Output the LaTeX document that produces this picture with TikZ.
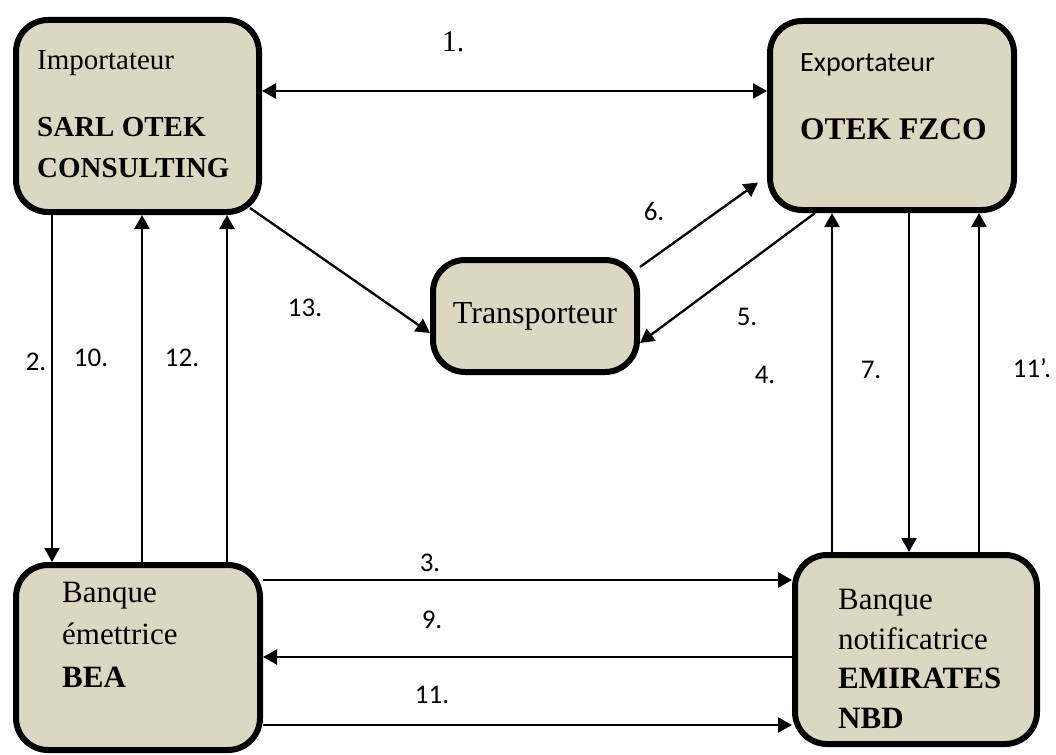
\documentclass[tikz,border=0pt]{standalone}
\usepackage{fontspec}
\setmainfont{Liberation Serif}
\newfontfamily\calfont{Carlito}
\usetikzlibrary{arrows.meta}
\definecolor{boxfill}{RGB}{219,215,193}

\begin{document}
\begin{tikzpicture}[x=1pt,y=-1pt,
    box/.style={draw,line width=6pt,fill=boxfill,rounded corners=32pt,inner sep=0pt},
    txt/.style={anchor=base west,align=left,inner sep=0pt},
    arr/.style={line width=2.3pt,>={Triangle[length=14pt,width=15pt]},->},
    num/.style={font=\calfont\fontsize{27}{30}\selectfont,inner sep=0pt}]
  \useasboundingbox (0,0) rectangle (1056,754);
  % boxes
  \node[box,minimum width=243pt,minimum height=192pt] (imp) at (137.5,116) {};
  \node[box,minimum width=244pt,minimum height=189pt] (exp) at (892,115.5) {};
  \node[box,minimum width=204pt,minimum height=112pt,
    font=\fontsize{32}{38}\selectfont] (tra) at (535,316) {Transporteur};
  \node[box,minimum width=244pt,minimum height=185pt] (bea) at (138,657.5) {};
  \node[box,minimum width=242pt,minimum height=189pt] (nbd) at (916,649.5) {};
  % box texts (placed at the baseline of their last line)
  \node[txt,font=\fontsize{29}{40}\selectfont] (imptxt) at (37,177)
    {Importateur\\[27pt]\textbf{SARL OTEK}\\\textbf{CONSULTING}};
  \node[txt,font=\fontsize{31.5}{38}\selectfont] (exptxt) at (800,140)
    {{\calfont\fontsize{28}{34}\selectfont Exportateur}\\[30pt]\textbf{OTEK FZCO}};
  \node[txt,font=\fontsize{31}{42.5}\selectfont] (beatxt) at (62,687)
    {Banque\\émettrice\\\textbf{BEA}};
  \node[txt,font=\fontsize{31}{39.5}\selectfont] (nbdtxt) at (838,728)
    {Banque\\notificatrice\\\textbf{EMIRATES}\\\textbf{NBD}};
  % connectors
  \draw[arr,<->] (imp.east |- 0,91) -- (exp.west |- 0,91);
  \draw[arr] (imp.south -| 52,0) -- (bea.north -| 52,0);
  \draw[arr] (bea.north -| 142,0) -- (imp.south -| 142,0);
  \draw[arr] (bea.north -| 227,0) -- (imp.south -| 227,0);
  \draw[arr] ([shift={(-12pt,7pt)}]imp.south east) -- ([yshift=-17pt]tra.west);
  \draw[arr] ([yshift=49pt]tra.east) -- ([shift={(-9pt,-67pt)}]exp.west);
  \draw[arr] (exp.south -| 815,0) -- ([yshift=-27pt]tra.east);
  \draw[arr] (nbd.north -| 832,0) -- (exp.south -| 832,0);
  \draw[arr] (exp.south -| 909,0) -- (nbd.north -| 909,0);
  \draw[arr] (nbd.north -| 979,0) -- (exp.south -| 979,0);
  \draw[arr] (bea.east |- 0,580) -- (nbd.west |- 0,580);
  \draw[arr] (nbd.west |- 0,657) -- (bea.east |- 0,657);
  \draw[arr] (bea.east |- 0,725) -- (nbd.west |- 0,725);
  % step numbers
  \node[inner sep=0pt,font=\fontsize{30}{34}\selectfont] (l1) at (453,42) {1.};
  \node[num] (l2) at (36,362) {2.};
  \node[num] (l10) at (91,358) {10.};
  \node[num] (l12) at (182,358) {12.};
  \node[num] (l13) at (305,308) {13.};
  \node[num] (l6) at (654,211) {6.};
  \node[num] (l5) at (747,317) {5.};
  \node[num] (l4) at (765,375) {4.};
  \node[num] (l7) at (871,370) {7.};
  \node[num] (l11b) at (1032,368) {11’.};
  \node[num] (l3) at (430,563) {3.};
  \node[num] (l9) at (432,620) {9.};
  \node[num] (l11) at (432,695) {11.};
\end{tikzpicture}
\end{document}
